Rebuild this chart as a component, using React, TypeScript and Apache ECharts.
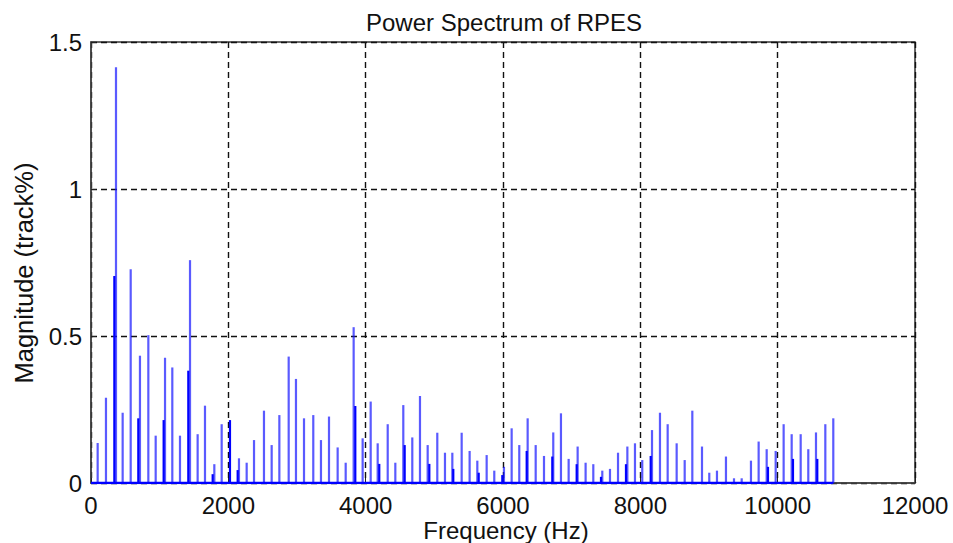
import React, { useEffect, useRef } from "react";
import * as echarts from "echarts";

// Main spectral lines (Hz) and magnitudes (track%)
const mainFreq = [
  97, 218, 364, 461, 578, 713, 835, 942, 1078, 1184, 1296, 1442, 1553, 1660, 1796, 1903,
  2155, 2267, 2374, 2519, 2631, 2743, 2879, 2985, 3102, 3237, 3349, 3466, 3592, 3709, 3825, 3956,
  4073, 4175, 4321, 4432, 4548, 4679, 4791, 4903, 5043, 5155, 5262, 5398, 5514, 5626, 5762, 5873,
  6014, 6126, 6237, 6359, 6476, 6597, 6732, 6844, 6956, 7087, 7203, 7315, 7446, 7558, 7675, 7811,
  7922, 8028, 8170, 8286, 8398, 8529, 8646, 8757, 8898, 9004, 9116, 9247, 9364, 9476, 9611, 9723,
  9840, 9971, 10087, 10204, 10335, 10446, 10558, 10694, 10810,
];
const mainMag = [
  0.136, 0.29, 1.414, 0.239, 0.727, 0.433, 0.503, 0.161, 0.426, 0.393, 0.161, 0.758, 0.166, 0.263, 0.064, 0.2,
  0.084, 0.069, 0.146, 0.246, 0.129, 0.231, 0.43, 0.354, 0.22, 0.231, 0.146, 0.226, 0.121, 0.069, 0.53, 0.152,
  0.277, 0.135, 0.2, 0.069, 0.265, 0.155, 0.296, 0.129, 0.171, 0.103, 0.103, 0.171, 0.109, 0.076, 0.095, 0.042,
  0.055, 0.186, 0.129, 0.22, 0.129, 0.092, 0.172, 0.237, 0.082, 0.124, 0.069, 0.064, 0.042, 0.048, 0.103, 0.124,
  0.135, 0.078, 0.18, 0.239, 0.2, 0.135, 0.078, 0.246, 0.124, 0.035, 0.042, 0.09, 0.016, 0.016, 0.076, 0.141,
  0.115, 0.109, 0.2, 0.166, 0.166, 0.115, 0.172, 0.2, 0.22,
];

// Secondary (overlapping, darker) lines
const darkFreq = [
  340, 689, 1058, 1417, 1772, 2024, 2136, 3849, 4198, 4568, 4927, 5276, 5646, 5990, 6345, 6718,
  7073, 7427, 7791, 8151, 9859, 10223, 10577,
];
const darkMag = [
  0.704, 0.22, 0.214, 0.382, 0.03, 0.214, 0.044, 0.262, 0.065, 0.129, 0.065, 0.048, 0.035, 0.027, 0.109, 0.09,
  0.064, 0.021, 0.064, 0.092, 0.055, 0.082, 0.082,
];

const xTicks = { min: 0, max: 12000, interval: 2000 };
const yTicks = { min: 0, max: 1.5, interval: 0.5 };

const FONT = "'Liberation Sans', Arial, Helvetica, sans-serif";

function stemSeries(freq: number[], mag: number[], color: string, width: number, z: number) {
  return {
    type: "custom",
    z,
    data: freq.map((f, i) => [f, mag[i]]),
    encode: { x: 0, y: 1 },
    renderItem: (_params: any, api: any) => {
      const x = api.value(0);
      const y = api.value(1);
      const p0 = api.coord([x, 0]);
      const p1 = api.coord([x, y]);
      return {
        type: "line",
        shape: { x1: p0[0], y1: p0[1], x2: p1[0], y2: p1[1] },
        style: { stroke: color, lineWidth: width },
      };
    },
  };
}

export default function App() {
  const ref = useRef<HTMLDivElement>(null);
  useEffect(() => {
    document.body.style.margin = "0";
    if (!ref.current) return;
    const chart = echarts.init(ref.current, null, { renderer: "svg" });
    const axisText = { fontSize: 24, fontFamily: FONT, color: "#111" };
    const grid = {
      lineStyle: { color: "#111", type: [6, 4], width: 1.4 },
    };
    chart.setOption({
      animation: false,
      backgroundColor: "#fff",
      title: {
        text: "Power Spectrum of RPES",
        left: 361,
        top: 5,
        textStyle: { fontSize: 24, fontWeight: "normal", fontFamily: FONT, color: "#111" },
      },
      grid: {
        left: 91,
        right: 38,
        top: 42,
        bottom: 60,
        outerBoundsMode: "none",
        containLabel: false,
        show: true,
        borderColor: "#333",
        borderWidth: 1.5,
        backgroundColor: "#fff",
      },
      xAxis: {
        type: "value",
        min: xTicks.min,
        max: xTicks.max,
        interval: xTicks.interval,
        name: "Frequency (Hz)",
        nameLocation: "middle",
        nameGap: 37,
        nameMoveOverlap: false,
        nameTextStyle: { ...axisText, lineHeight: 20, padding: [0, 0, 0, 6] },
        axisLine: { show: true, lineStyle: { color: "#444", width: 1.5 } },
        axisTick: { show: true, inside: true, length: 5, lineStyle: { color: "#222" } },
        axisLabel: { ...axisText, lineHeight: 20, margin: 12, formatter: (v: number) => String(v) },
        splitLine: { show: true, ...grid },
      },
      yAxis: {
        type: "value",
        min: yTicks.min,
        max: yTicks.max,
        interval: yTicks.interval,
        axisLine: { show: true, lineStyle: { color: "#444", width: 1.5 } },
        axisTick: { show: true, inside: true, length: 5, lineStyle: { color: "#222" } },
        axisLabel: { ...axisText, margin: 9, formatter: (v: number) => String(v) },
        splitLine: { show: true, ...grid },
      },
      graphic: [
        {
          type: "text",
          x: 24,
          y: 273,
          rotation: Math.PI / 2,
          style: {
            text: "Magnitude (track%)",
            fontSize: 25.5,
            fontFamily: FONT,
            fill: "#111",
            align: "center",
            verticalAlign: "middle",
          },
        },
      ],
      series: [
        stemSeries(mainFreq, mainMag, "rgba(20,20,255,0.7)", 2.2, 3),
        stemSeries(darkFreq, darkMag, "#0000ff", 2.2, 4),
        {
          type: "line",
          z: 5,
          symbol: "none",
          silent: true,
          data: [
            [0, 0],
            [mainFreq[mainFreq.length - 1], 0],
          ],
          lineStyle: { color: "#0000ff", width: 2.5 },
        },
      ],
    });
    return () => chart.dispose();
  }, []);
  return <div ref={ref} style={{ width: 953, height: 543 }} />;
}
